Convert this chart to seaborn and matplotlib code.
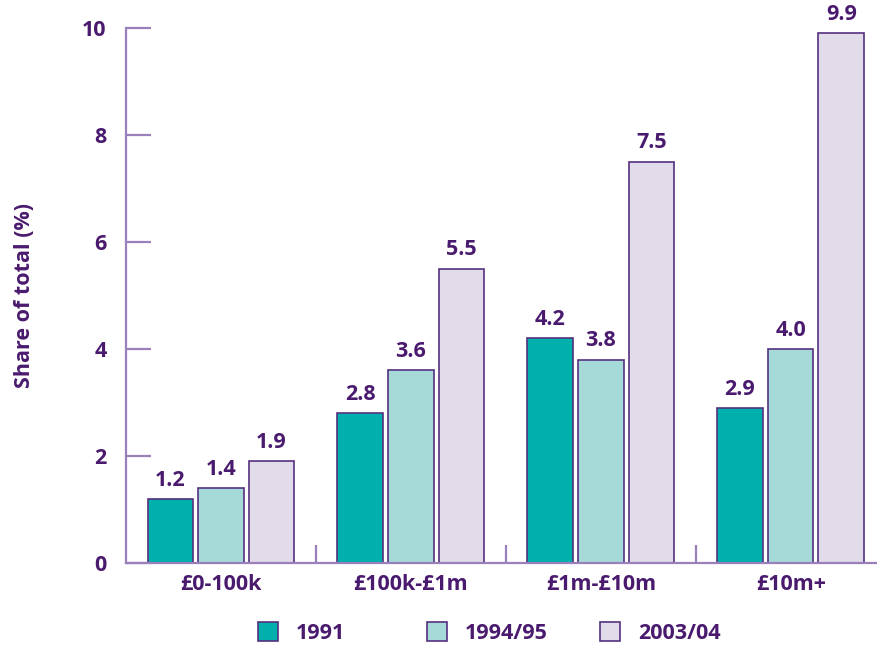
import matplotlib
matplotlib.use("Agg")
import matplotlib.pyplot as plt
import seaborn as sns
import pandas as pd

# values
bands = ["£0-100k", "£100k-£1m", "£1m-£10m", "£10m+"]
years = ["1991", "1994/95", "2003/04"]
share_1991 = [1.2, 2.8, 4.2, 2.9]
share_1995 = [1.4, 3.6, 3.8, 4.0]
share_2004 = [1.9, 5.5, 7.5, 9.9]

df = pd.DataFrame({
    "band": bands * 3,
    "year": [years[0]] * 4 + [years[1]] * 4 + [years[2]] * 4,
    "share": share_1991 + share_1995 + share_2004,
})

text_col = "#4A1A6E"
axis_col = "#9A80BA"
edge_col = "#55307F"
palette = {"1991": "#00B0AD", "1994/95": "#A6DAD9", "2003/04": "#E2DCEA"}

sns.set_style("white")
plt.rcParams["font.family"] = ["Open Sans", "DejaVu Sans"]
plt.rcParams["font.weight"] = "bold"
plt.rcParams["ytick.left"] = True
plt.rcParams["xtick.bottom"] = True
plt.rcParams["ytick.direction"] = "in"
plt.rcParams["xtick.direction"] = "in"

fig = plt.figure(figsize=(8.78, 6.5), dpi=100)
ax = fig.add_axes([0.1435, 0.1338, 0.8565, 0.823])

sns.barplot(data=df, x="band", y="share", hue="year", palette=palette,
            saturation=1, width=0.8, gap=0.1, edgecolor=edge_col,
            linewidth=1.2, ax=ax, legend=True)

for c in ax.containers:
    ax.bar_label(c, fmt="%.1f", padding=6, fontsize=15.5, fontweight="bold",
                 color=text_col)

ax.set_ylim(0, 10)
ax.set_xlim(-0.5, 3.46)
ax.set_yticks([0, 2, 4, 6, 8, 10])
ax.set_xticks([0.5, 1.5, 2.5], minor=True)
ax.tick_params(axis="y", which="major", left=True, direction="in", length=18,
               width=1.6, color=axis_col, labelsize=15.5, labelcolor=text_col,
               pad=14)
ax.tick_params(axis="x", which="major", length=0, labelsize=15.5,
               labelcolor=text_col, pad=8)
ax.tick_params(axis="x", which="minor", bottom=True, direction="in",
               length=13, width=1.6, color=axis_col)
for lab in ax.get_xticklabels() + ax.get_yticklabels():
    lab.set_fontweight("bold")

ax.set_xlabel("")
ax.set_ylabel("Share of total (%)", fontsize=15.5, fontweight="bold",
              color=text_col, labelpad=34)

for s in ["top", "right"]:
    ax.spines[s].set_visible(False)
for s in ["left", "bottom"]:
    ax.spines[s].set_color(axis_col)
    ax.spines[s].set_linewidth(1.6)

# legend: one entry per slot, evenly pitched like the reference
handles, labels = ax.get_legend_handles_labels()
ax.get_legend().remove()
legend_x = [258, 427, 600]
for h, lab, x in zip(handles, labels, legend_x):
    h.set_edgecolor(edge_col)
    h.set_linewidth(1.2)
    leg = fig.legend([h], [lab], loc="center left",
                     bbox_to_anchor=(x / 878, 1 - 633 / 650), frameon=False,
                     borderpad=0, borderaxespad=0, handlelength=0.95,
                     handleheight=0.95, handletextpad=0.8,
                     prop={"size": 15.5, "weight": "bold"})
    for t in leg.get_texts():
        t.set_color(text_col)

plt.savefig("out.png", dpi=100)
